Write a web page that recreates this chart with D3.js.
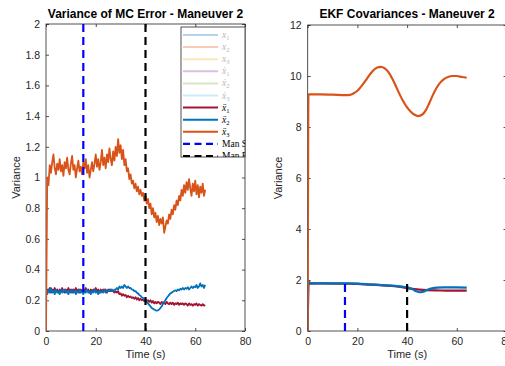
<!DOCTYPE html>
<html><head><meta charset="utf-8">
<script src="https://cdn.jsdelivr.net/npm/d3@7"></script>
<style>body{margin:0;background:#fff;} svg{display:block;} text{font-family:"Liberation Sans",Arial,sans-serif;}</style>
</head><body>
<svg id="c" width="505" height="366"></svg>
<script>
// ---------- data ----------
const sampleStep = 0.5; // seconds between MC samples
const xTickVals = [0, 20, 40, 60, 80];
const xTickLabels = ["0", "20", "40", "60", "80"];
const yTickValsLeft = [0, 0.2, 0.4, 0.6, 0.8, 1, 1.2, 1.4, 1.6, 1.8, 2];
const yTickLabelsLeft = ["0", "0.2", "0.4", "0.6", "0.8", "1", "1.2", "1.4", "1.6", "1.8", "2"];
const yTickValsRight = [0, 2, 4, 6, 8, 10, 12];
const yTickLabelsRight = ["0", "2", "4", "6", "8", "10", "12"];
const manStart = 15, manEnd = 40;
const manLineTopLeft = 2, manLineTopRight = 1.85;

// Variance of MC error (sampled every 0.5 s)
const mcAcc1 = [0.25,0.27,0.26,0.28,0.25,0.27,0.26,0.28,0.26,0.27,0.25,0.27,0.26,0.28,0.26,0.25,0.27,0.26,0.28,0.26,
0.27,0.25,0.27,0.26,0.28,0.26,0.27,0.25,0.27,0.26,0.27,0.26,0.28,0.26,0.27,0.25,0.27,0.26,0.27,0.26,
0.28,0.26,0.27,0.25,0.27,0.26,0.27,0.26,0.27,0.25,0.27,0.26,0.27,0.26,0.26,0.25,0.26,0.25,0.26,0.24,
0.245,0.23,0.24,0.23,0.235,0.22,0.23,0.22,0.225,0.215,0.22,0.21,0.22,0.205,0.215,0.20,0.21,0.20,0.205,0.195,
0.205,0.195,0.20,0.19,0.20,0.185,0.195,0.18,0.19,0.18,0.19,0.185,0.175,0.19,0.18,0.185,0.175,0.19,0.18,0.175,
0.185,0.175,0.185,0.17,0.18,0.175,0.185,0.17,0.18,0.175,0.18,0.17,0.18,0.175,0.165,0.18,0.17,0.175,0.165,0.175,
0.17,0.18,0.165,0.175,0.17,0.165,0.175,0.165,0.17];
const mcAcc2 = [0.26,0.24,0.27,0.25,0.28,0.25,0.26,0.24,0.27,0.25,0.26,0.24,0.27,0.25,0.26,0.27,0.25,0.26,0.24,0.26,
0.25,0.27,0.25,0.26,0.24,0.26,0.25,0.27,0.25,0.26,0.24,0.26,0.25,0.27,0.25,0.26,0.24,0.26,0.25,0.27,
0.25,0.26,0.24,0.26,0.25,0.26,0.25,0.27,0.25,0.26,0.26,0.27,0.26,0.27,0.26,0.27,0.27,0.28,0.27,0.29,
0.28,0.29,0.28,0.30,0.29,0.28,0.29,0.28,0.28,0.27,0.27,0.26,0.26,0.25,0.245,0.235,0.23,0.22,0.215,0.205,
0.20,0.19,0.18,0.17,0.16,0.15,0.145,0.14,0.135,0.133,0.135,0.14,0.15,0.16,0.175,0.19,0.20,0.215,0.225,0.235,
0.245,0.25,0.255,0.26,0.265,0.26,0.27,0.265,0.275,0.27,0.28,0.27,0.28,0.275,0.285,0.27,0.28,0.29,0.28,0.29,
0.285,0.30,0.28,0.29,0.31,0.29,0.30,0.28,0.30];
const mcAcc3 = [0,1.00,0.95,1.08,1.03,1.10,1.15,1.06,1.02,1.09,1.05,1.12,1.04,1.08,1.01,1.10,1.06,1.13,1.05,1.02,
1.09,1.14,1.05,1.08,1.00,1.06,1.11,1.04,1.07,1.02,1.10,1.06,1.12,1.03,1.08,1.00,1.05,1.10,1.04,1.09,
1.15,1.07,1.12,1.05,1.10,1.18,1.08,1.13,1.06,1.15,1.10,1.19,1.12,1.08,1.17,1.11,1.20,1.14,1.25,1.16,
1.21,1.12,1.18,1.08,1.12,1.04,1.06,0.99,1.02,0.96,0.98,0.93,0.96,0.91,0.94,0.89,0.92,0.88,0.90,0.85,
0.88,0.83,0.86,0.80,0.83,0.76,0.80,0.74,0.77,0.71,0.75,0.69,0.73,0.70,0.74,0.64,0.68,0.72,0.70,0.76,
0.73,0.79,0.76,0.82,0.79,0.85,0.82,0.88,0.85,0.92,0.88,0.95,0.90,0.97,0.92,0.99,0.93,0.88,0.96,0.91,
0.98,0.89,0.95,0.87,0.94,0.90,0.96,0.88,0.92];

// EKF covariances: [time (s), variance]
const ekfAcc1 = [[0,0],[0.3,1.86],[5,1.87],[15,1.86],[20,1.85],[25,1.82],[30,1.79],[35,1.76],[38,1.72],[40,1.68],[43,1.64],[45,1.62],[48,1.60],[52,1.59],[58,1.58],[64,1.58]];
const ekfAcc2 = [[0,0],[0.3,1.95],[1,1.88],[5,1.87],[10,1.87],[15,1.87],[20,1.86],[25,1.83],[30,1.80],[35,1.77],[38,1.74],[40,1.71],[42,1.65],[43.5,1.57],[45,1.52],[46.5,1.54],[48,1.61],[50,1.67],[52,1.70],[55,1.71],[60,1.71],[64,1.70]];
const ekfAcc3 = [[0,0],[0.3,9.28],[5,9.28],[10,9.27],[15,9.25],[17,9.26],[18.5,9.32],[20,9.42],[22,9.65],[24,9.92],[26,10.18],[28,10.33],[29.5,10.36],[31,10.30],[32.5,10.15],[34,9.90],[35.5,9.60],[37,9.28],[38.5,9.00],[40,8.77],[41.5,8.60],[43,8.48],[44.5,8.43],[46,8.48],[47.5,8.65],[49,8.95],[50.5,9.28],[52,9.56],[53.5,9.76],[55,9.89],[56.5,9.96],[58,10.00],[60,10.00],[62,9.96],[64,9.93]];

const legendLabels = [["x","","1"],["x","","2"],["x","","3"],["x","\u0307","1"],["x","\u0307","2"],["x","\u0307","3"],["x","\u0308","1"],["x","\u0308","2"],["x","\u0308","3"],["Man Start"],["Man End"]];
const legendColors = ["#b3d5eb","#f4cbba","#fae8bc","#d8c1dd","#d6e6c1","#caecfa","#A2142F","#0072BD","#D95319","#0000FF","#000000"];

// ---------- drawing ----------
const svg = d3.select("#c");
const axisColor = "#262626";
const C = {red:"#A2142F", blue:"#0072BD", orange:"#D95319"};

function drawAxes(g, x, y, yVals, yLabels, title, clipId) {
  const [x0, x1] = x.range(), [yb, yt] = y.range();
  g.append("clipPath").attr("id", clipId).append("rect")
    .attr("x", x0).attr("y", yt).attr("width", x1 - x0).attr("height", yb - yt);
  const fmtX = (d) => xTickLabels[xTickVals.indexOf(d)];
  const fmtY = (d) => yLabels[yVals.indexOf(d)];
  const ax = g.append("g").attr("transform", `translate(0,${yb})`)
    .call(d3.axisBottom(x).tickValues(xTickVals).tickFormat(fmtX).tickSizeInner(-3).tickSizeOuter(0).tickPadding(7));
  const axT = g.append("g").attr("transform", `translate(0,${yt})`)
    .call(d3.axisTop(x).tickValues(xTickVals).tickFormat("").tickSizeInner(-3).tickSizeOuter(0));
  const ay = g.append("g").attr("transform", `translate(${x0},0)`)
    .call(d3.axisLeft(y).tickValues(yVals).tickFormat(fmtY).tickSizeInner(-3).tickSizeOuter(0).tickPadding(6));
  const ayR = g.append("g").attr("transform", `translate(${x1},0)`)
    .call(d3.axisRight(y).tickValues(yVals).tickFormat("").tickSizeInner(-3).tickSizeOuter(0));
  [ax, axT, ay, ayR].forEach(a => {
    a.select(".domain").remove();
    a.selectAll("line").attr("stroke", axisColor).attr("stroke-width", 0.8);
    a.selectAll("text").attr("fill", axisColor).style("font-size", "10.5px").style("font-family", "Liberation Sans, Arial, sans-serif");
  });
  g.append("rect").attr("x", x0).attr("y", yt).attr("width", x1 - x0).attr("height", yb - yt)
    .attr("fill", "none").attr("stroke", axisColor).attr("stroke-width", 0.8);
  g.append("text").attr("x", (x0 + x1) / 2).attr("y", yb + 27).attr("text-anchor", "middle")
    .style("font-size", "11px").attr("fill", axisColor).text("Time (s)");
  g.append("text").attr("transform", `translate(${x0 - 26},${(yb + yt) / 2}) rotate(-90)`).attr("text-anchor", "middle")
    .style("font-size", "11px").attr("fill", axisColor).text("Variance");
  g.append("text").attr("x", (x0 + x1) / 2).attr("y", 18).attr("text-anchor", "middle")
    .style("font-size", "12px").style("font-weight", "bold").attr("fill", "#000").text(title);
}

// ---- left panel ----
const xL = d3.scaleLinear().domain([0, 80]).range([46, 245]);
const yL = d3.scaleLinear().domain([0, 2]).range([331, 24]);
const gL = svg.append("g");
drawAxes(gL, xL, yL, yTickValsLeft, yTickLabelsLeft, "Variance of MC Error - Maneuver 2", "clipL");
const lineL = d3.line().x((d, i) => xL(i * sampleStep)).y(d => yL(d));
const plotL = gL.append("g").attr("clip-path", "url(#clipL)");
[[mcAcc1, C.red], [mcAcc2, C.blue], [mcAcc3, C.orange]].forEach(([s, col]) => {
  plotL.append("path").datum(s).attr("d", lineL).attr("fill", "none").attr("stroke", col)
    .attr("stroke-width", 1.8).attr("stroke-linejoin", "round");
});
[[manStart, "#0000FF"], [manEnd, "#000000"]].forEach(([t, col]) => {
  plotL.append("line").attr("x1", xL(t)).attr("x2", xL(t)).attr("y1", yL(0)).attr("y2", yL(manLineTopLeft))
    .attr("stroke", col).attr("stroke-width", 2.2).attr("stroke-dasharray", "8,5");
});

// legend
const lg = gL.append("g");
const lx0 = 181, ly0 = 27, lx1 = 245, ly1 = 157;
lg.append("clipPath").attr("id", "clipLeg").append("rect").attr("x", lx0).attr("y", ly0).attr("width", lx1 - lx0).attr("height", ly1 - ly0);
lg.append("rect").attr("x", lx0).attr("y", ly0).attr("width", lx1 - lx0).attr("height", ly1 - ly0)
  .attr("fill", "#fff").attr("stroke", axisColor).attr("stroke-width", 0.8);
const lgi = lg.append("g").attr("clip-path", "url(#clipLeg)");
legendLabels.forEach((lab, i) => {
  const yy = 35 + i * 12.1;
  const dashed = i >= 9;
  lgi.append("line").attr("x1", 183).attr("x2", 218).attr("y1", yy).attr("y2", yy)
    .attr("stroke", legendColors[i]).attr("stroke-width", dashed ? 2.2 : 2)
    .attr("stroke-dasharray", dashed ? "7,4.5" : null);
  const txt = lgi.append("text").attr("x", 222).attr("y", yy + 3)
    .style("font-family", "Liberation Serif, DejaVu Serif, serif").style("font-size", "9.5px")
    .attr("fill", i < 6 ? "#b8b8b8" : "#000");
  if (lab.length === 1) {
    txt.text(lab[0]);
  } else {
    txt.append("tspan").style("font-style", "italic").text(lab[0] + lab[1]);
    txt.append("tspan").attr("dy", 2).style("font-size", "6.5px").text(lab[2]);
  }
});

// ---- right panel ----
const xR = d3.scaleLinear().domain([0, 80]).range([307.7, 506.5]);
const yR = d3.scaleLinear().domain([0, 12]).range([331, 25]);
const gR = svg.append("g");
drawAxes(gR, xR, yR, yTickValsRight, yTickLabelsRight, "EKF Covariances - Maneuver 2", "clipR");
const lineR = d3.line().x(d => xR(d[0])).y(d => yR(d[1])).curve(d3.curveMonotoneX);
const plotR = gR.append("g").attr("clip-path", "url(#clipR)");
[[ekfAcc1, C.red], [ekfAcc2, C.blue], [ekfAcc3, C.orange]].forEach(([s, col]) => {
  plotR.append("path").datum(s).attr("d", lineR).attr("fill", "none").attr("stroke", col)
    .attr("stroke-width", 2.2).attr("stroke-linejoin", "round");
});
[[manStart, "#0000FF"], [manEnd, "#000000"]].forEach(([t, col]) => {
  plotR.append("line").attr("x1", xR(t)).attr("x2", xR(t)).attr("y1", yR(0)).attr("y2", yR(manLineTopRight))
    .attr("stroke", col).attr("stroke-width", 2.2).attr("stroke-dasharray", "8,5");
});
</script>
</body></html>
